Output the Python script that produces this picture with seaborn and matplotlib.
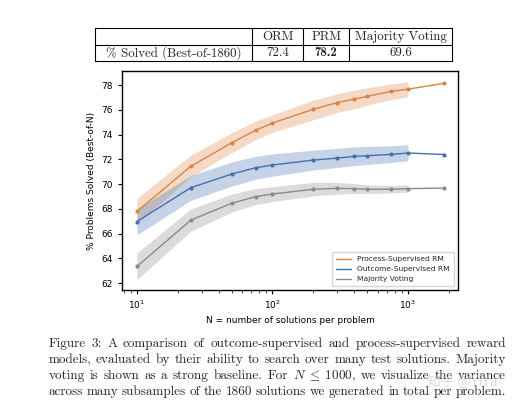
import matplotlib
matplotlib.use("Agg")
import matplotlib.pyplot as plt
from matplotlib.lines import Line2D
import pandas as pd
import seaborn as sns

# values
n_values = [10, 25, 50, 75, 100, 200, 300, 400, 500, 750, 1000, 1860]
prm = [67.8, 71.45, 73.35, 74.35, 74.95, 76.05, 76.6, 76.87, 77.1, 77.5, 77.68, 78.16]
orm = [66.98, 69.72, 70.82, 71.33, 71.55, 71.95, 72.11, 72.25, 72.3, 72.41, 72.52, 72.4]
mv = [63.35, 67.1, 68.46, 68.99, 69.21, 69.59, 69.67, 69.64, 69.59, 69.59, 69.64, 69.69]

# variance bands (only for N <= 1000)
band_n = n_values[:11]
prm_low = [66.8, 70.6, 72.55, 73.6, 74.2, 75.2, 75.8, 76.1, 76.4, 76.85, 77.06]
prm_high = [68.86, 72.35, 74.15, 75.1, 75.6, 76.8, 77.3, 77.6, 77.8, 78.1, 78.27]
orm_low = [65.9, 68.7, 69.85, 70.4, 70.65, 71.15, 71.35, 71.5, 71.6, 71.75, 71.9]
orm_high = [68.0, 70.7, 71.8, 72.25, 72.45, 72.75, 72.9, 73.0, 73.05, 73.1, 73.2]
mv_low = [62.3, 66.2, 67.75, 68.35, 68.6, 69.05, 69.2, 69.25, 69.25, 69.3, 69.35]
mv_high = [64.45, 68.0, 69.2, 69.65, 69.8, 70.15, 70.15, 70.05, 69.95, 69.9, 69.95]

series_names = ["Process-Supervised RM", "Outcome-Supervised RM", "Majority Voting"]

# table above the plot
table_header = ["ORM", "PRM", "Majority Voting"]
table_row_label = "% Solved (Best-of-1860)"
table_values = ["72.4", "78.2", "69.6"]

caption_lines = [
    "Figure 3:  A comparison of outcome-supervised and process-supervised reward",
    "models, evaluated by their ability to search over many test solutions.  Majority",
    r"voting is shown as a strong baseline.  For $N\;\leq\;1000$, we visualize the variance",
    "across many subsamples of the 1860 solutions we generated in total per problem.",
]

sns.set_theme(style="ticks")
plt.rcParams["font.family"] = ["DejaVu Sans", "Noto Sans CJK SC"]
plt.rcParams["mathtext.fontset"] = "dejavusans"

W, H = 527, 409
fig = plt.figure(figsize=(W / 100, H / 100), dpi=100)
fig.patch.set_facecolor("white")


def fx(x):
    return x / W


def fy(y):
    return 1 - y / H


colors = {"Process-Supervised RM": "#DB8443",
          "Outcome-Supervised RM": "#4470B0",
          "Majority Voting": "#8A8A8A"}

ax = fig.add_axes([fx(122), fy(290), fx(458) - fx(122), fy(71) - fy(290)])

df = pd.DataFrame({
    "N": n_values * 3,
    "Solved": prm + orm + mv,
    "Method": [s for s in series_names for _ in n_values],
})

bands = {
    "Process-Supervised RM": (prm_low, prm_high),
    "Outcome-Supervised RM": (orm_low, orm_high),
    "Majority Voting": (mv_low, mv_high),
}
for name in series_names:
    lo, hi = bands[name]
    ax.fill_between(band_n, lo, hi, color=colors[name], alpha=0.3, linewidth=0)

sns.lineplot(data=df, x="N", y="Solved", hue="Method", palette=colors,
             marker="o", markersize=3, markeredgewidth=0, linewidth=1,
             legend=False, ax=ax)

ax.set_xscale("log")
ax.set_xlim(7.76, 2340)
ax.set_ylim(61.45, 79.15)
ax.set_yticks(range(62, 80, 2))
ax.tick_params(labelsize=6.5, length=3, width=0.8, colors="black")
ax.tick_params(which="minor", length=2, width=0.6)
for sp in ax.spines.values():
    sp.set_color("black")
    sp.set_linewidth(1.0)
ax.set_xlabel("N = number of solutions per problem", fontsize=6.5, color="black", labelpad=3)
ax.set_ylabel("% Problems Solved (Best-of-N)", fontsize=6.5, color="black", labelpad=4)

handles = [Line2D([], [], color=colors[s], linewidth=1) for s in series_names]
ax.legend(handles, series_names, loc="lower right", fontsize=5.4, frameon=True,
          handlelength=2.0, borderpad=0.55, labelspacing=0.5)

# ---- table ----
cm = "cmr10"
tl, tr, tt, tm, tb = 95, 452, 28.3, 45, 61
col_x = [95, 252.3, 303.3, 349, 452]
line_kw = dict(color="black", linewidth=0.8, transform=fig.transFigure)
for y in (tt, tm, tb):
    fig.add_artist(Line2D([fx(tl), fx(tr)], [fy(y), fy(y)], **line_kw))
for x in col_x:
    fig.add_artist(Line2D([fx(x), fx(x)], [fy(tt), fy(tb)], **line_kw))

row1, row2 = (tt + tm) / 2, (tm + tb) / 2
for i, lab in enumerate(table_header):
    cx = (col_x[i + 1] + col_x[i + 2]) / 2
    fig.text(fx(cx), fy(row1), lab, family=cm, fontsize=9.3, ha="center", va="center")
    fig.text(fx(cx), fy(row2), table_values[i], family="cmb10" if lab == "PRM" else cm,
             fontsize=9.3, ha="center", va="center")
fig.text(fx((col_x[0] + col_x[1]) / 2), fy(row2), table_row_label, family=cm,
         fontsize=9.3, ha="center", va="center")

# ---- caption (justified) ----
plt.rcParams["mathtext.fontset"] = "cm"
renderer = fig.canvas.get_renderer()
left, right = 48.3, 505.7
baselines = [347, 363, 379, 395]
for line, base in zip(caption_lines, baselines):
    words = line.replace("  ", " ").split(" ")
    texts = [fig.text(0, fy(base), w, family=cm, fontsize=9.5, va="baseline", ha="left")
             for w in words]
    widths = [t.get_window_extent(renderer=renderer).width for t in texts]
    gap = (right - left - sum(widths)) / (len(words) - 1)
    x = left
    for t, w in zip(texts, widths):
        t.set_x(fx(x))
        x += w + gap

# watermark
fig.text(fx(462), fy(383), "知乎 @YiYa", family=["Noto Sans CJK SC", "DejaVu Sans"],
         fontsize=10, color="#c4c4c4", alpha=0.6, ha="center", va="center")

fig.savefig("out.png", dpi=100)
